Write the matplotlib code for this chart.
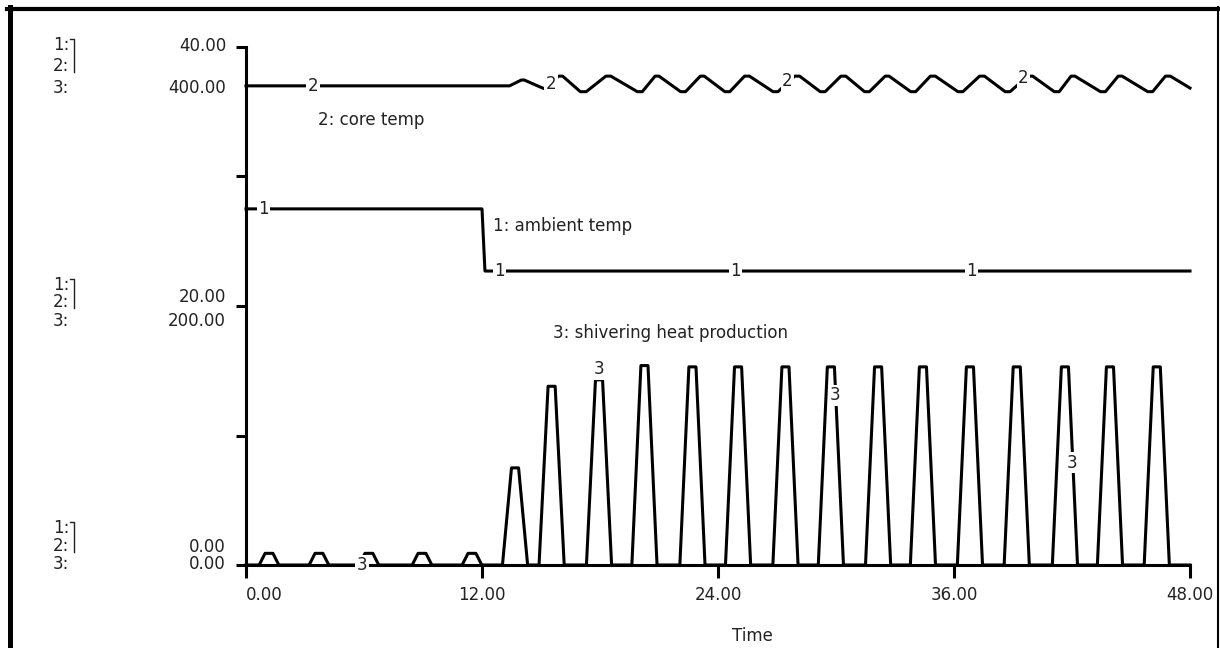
import matplotlib.pyplot as plt
from matplotlib.lines import Line2D

plt.rcParams['font.family'] = ['DejaVu Sans']

W, H = 1220, 648
INK = '#222222'

# 1: ambient temp (scale 0-40)
ambient_t = [0.0, 12.0, 12.15, 48.0]
ambient_v = [27.5, 27.5, 22.7, 22.7]

# 2: core temp (scale 0-40), rounded peaks / troughs
core_t = [0.0, 13.4, 14.0, 14.15, 15.05, 15.5,
          15.85, 16.1, 17.0, 17.3, 18.3, 18.55, 19.9, 20.15, 20.8, 21.0,
          22.1, 22.35, 23.1, 23.3, 24.35, 24.6, 25.35, 25.6, 26.8, 27.05,
          27.9, 28.15, 29.2, 29.45, 30.25, 30.5, 31.45, 31.7, 32.5, 32.7,
          33.8, 34.05, 34.8, 35.05, 36.2, 36.45, 37.3, 37.55, 38.6, 38.85,
          39.75, 40.0, 41.1, 41.35, 41.95, 42.15, 43.45, 43.7, 44.35, 44.55,
          45.85, 46.1, 46.75, 47.0, 48.0]
core_v = [37.0, 37.0, 37.45, 37.45, 36.85, 36.6,
          37.75, 37.75, 36.55, 36.55, 37.75, 37.75, 36.55, 36.55, 37.75, 37.75,
          36.55, 36.55, 37.75, 37.75, 36.55, 36.55, 37.75, 37.75, 36.55, 36.55,
          37.75, 37.75, 36.55, 36.55, 37.75, 37.75, 36.55, 36.55, 37.75, 37.75,
          36.55, 36.55, 37.75, 37.75, 36.55, 36.55, 37.75, 37.75, 36.55, 36.55,
          37.75, 37.75, 36.55, 36.55, 37.75, 37.75, 36.55, 36.55, 37.75, 37.75,
          36.55, 36.55, 37.75, 37.75, 36.83]

# 3: shivering heat production (scale 0-400)
shiver_t = [0.0,
            0.67, 0.97, 1.37, 1.67,
            3.21, 3.51, 3.91, 4.21,
            5.75, 6.05, 6.45, 6.75,
            8.45, 8.75, 9.15, 9.45,
            10.99, 11.29, 11.69, 11.99,
            13.04, 13.50, 13.86, 14.32,
            14.90, 15.36, 15.72, 16.18,
            17.31, 17.77, 18.13, 18.59,
            19.62, 20.08, 20.44, 20.90,
            22.06, 22.52, 22.88, 23.34,
            24.38, 24.84, 25.20, 25.66,
            26.79, 27.25, 27.61, 28.07,
            29.10, 29.56, 29.92, 30.38,
            31.50, 31.96, 32.32, 32.78,
            33.78, 34.24, 34.60, 35.06,
            36.17, 36.63, 36.99, 37.45,
            38.55, 39.01, 39.37, 39.83,
            41.00, 41.46, 41.82, 42.28,
            43.29, 43.75, 44.11, 44.57,
            45.67, 46.13, 46.49, 46.95,
            48.0]
shiver_v = [0,
            0, 9, 9, 0,
            0, 9, 9, 0,
            0, 9, 9, 0,
            0, 9, 9, 0,
            0, 9, 9, 0,
            0, 75, 75, 0,
            0, 138, 138, 0,
            0, 143, 143, 0,
            0, 154, 154, 0,
            0, 153, 153, 0,
            0, 153, 153, 0,
            0, 153, 153, 0,
            0, 153, 153, 0,
            0, 153, 153, 0,
            0, 153, 153, 0,
            0, 153, 153, 0,
            0, 153, 153, 0,
            0, 153, 153, 0,
            0, 153, 153, 0,
            0, 153, 153, 0,
            0]

# curve number markers (time, value)
mark1_t = [0.9, 12.9, 24.9, 36.9]
mark1_v = [27.5, 22.7, 22.7, 22.7]
mark2_t = [3.41, 15.51, 27.53, 39.53]
mark2_v = [37.0, 37.18, 37.41, 37.64]
mark3_t = [5.9, 17.97, 29.95, 41.98]
mark3_v = [0, 151, 131, 79]

x_ticks = [0, 12, 24, 36, 48]
x_labels = ['0.00', '12.00', '24.00', '36.00', '48.00']


def fx(x):
    return x / W


def fy(y):
    return 1 - y / H


fig = plt.figure(figsize=(12.2, 6.48), dpi=100)
fig.patch.set_facecolor('white')

ax = fig.add_axes([fx(246), fy(565), 944 / W, 518 / H])
ax.set_xlim(0, 48)
ax.set_ylim(0, 40)
ax2 = ax.twinx()
ax2.set_ylim(0, 400)
ax2.axis('off')

lw = 2.2
ax.plot(ambient_t, ambient_v, color='black', lw=lw, clip_on=False, zorder=3)
ax.plot(core_t, core_v, color='black', lw=lw, clip_on=False, zorder=3)
ax2.plot(shiver_t, shiver_v, color='black', lw=lw, clip_on=False, zorder=3)

fs = 12
box = dict(facecolor='white', edgecolor='none', pad=1.0)
for t, v in zip(mark1_t, mark1_v):
    ax.text(t, v, '1', ha='center', va='center', fontsize=fs, color=INK, bbox=box, zorder=5)
for t, v in zip(mark2_t, mark2_v):
    ax.text(t, v, '2', ha='center', va='center', fontsize=fs, color=INK, bbox=box, zorder=5)
for t, v in zip(mark3_t, mark3_v):
    ax2.text(t, v, '3', ha='center', va='center', fontsize=fs, color=INK, bbox=box, zorder=5)

for side in ['top', 'right']:
    ax.spines[side].set_visible(False)
for side in ['left', 'bottom']:
    ax.spines[side].set_linewidth(lw)
ax.set_yticks([0, 10, 20, 30, 40])
ax.set_yticklabels([])
ax.tick_params(axis='y', direction='out', length=7.5, width=lw)
ax.set_xticks(x_ticks)
ax.set_xticklabels(x_labels, fontsize=fs, color=INK)
ax.tick_params(axis='x', direction='out', length=9, width=lw, pad=6)
ax.get_xticklabels()[0].set_ha('left')
ax.set_facecolor('none')

# series names
fig.text(fx(318), fy(120), '2: core temp', fontsize=fs, color=INK, va='center')
fig.text(fx(493), fy(226), '1: ambient temp', fontsize=fs, color=INK, va='center')
fig.text(fx(553), fy(333), '3: shivering heat production', fontsize=fs, color=INK, va='center')
fig.text(fx(752), fy(636), 'Time', fontsize=fs, color=INK, ha='center', va='center')

# scale labels on the left
scale_rows = [
    (45, 66, 88, '40.00', 46, '400.00', 88),
    (285, 302, 321, '20.00', 297, '200.00', 321),
    (528, 546, 564, '0.00', 547, '0.00', 564),
]
for y1, y2, y3, lab12, yl12, lab3, yl3 in scale_rows:
    fig.text(fx(53), fy(y1), '1:', fontsize=fs, color=INK, va='center')
    fig.text(fx(53), fy(y2), '2:', fontsize=fs, color=INK, va='center')
    fig.text(fx(53), fy(y3), '3:', fontsize=fs, color=INK, va='center')
    fig.add_artist(Line2D([fx(70), fx(74), fx(74)], [fy(y1 - 6), fy(y1 - 6), fy(y2 + 6)],
                          color=INK, lw=1.0))
    fig.text(fx(226), fy(yl12), lab12, fontsize=fs, color=INK, ha='right', va='center')
    fig.text(fx(226), fy(yl3), lab3, fontsize=fs, color=INK, ha='right', va='center')

# window frame
fig.add_artist(Line2D([fx(9.5), fx(9.5)], [fy(7), fy(648)], color='black', lw=3.6))
fig.add_artist(Line2D([fx(7), fx(1219)], [fy(9), fy(9)], color='black', lw=3.0))
fig.add_artist(Line2D([fx(1218), fx(1218)], [fy(7), fy(648)], color='black', lw=1.5))

fig.savefig('out.png', dpi=100)
